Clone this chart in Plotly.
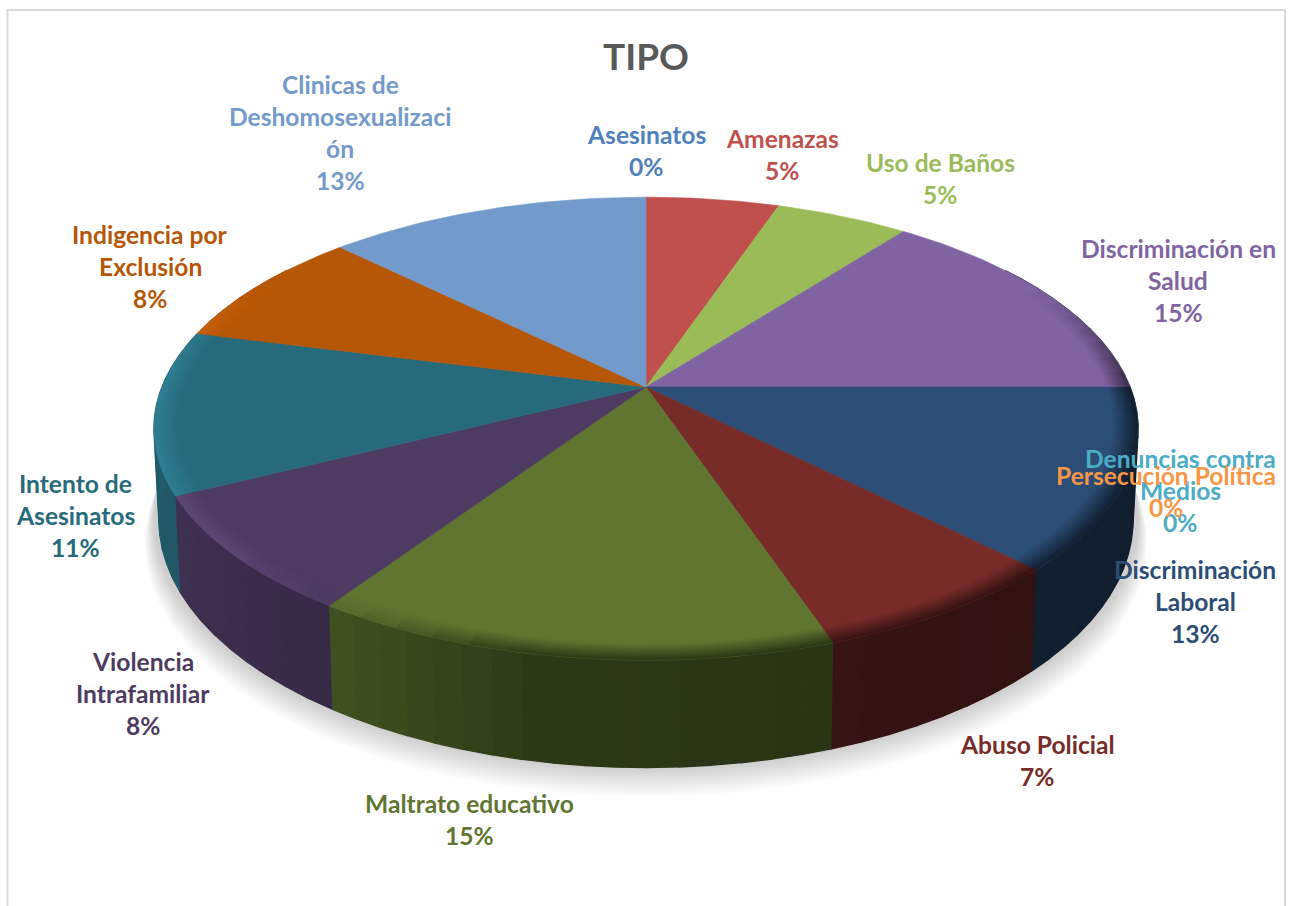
import numpy as np
import plotly.graph_objects as go

TITLE = "TIPO"
categories = ["Asesinatos", "Amenazas", "Uso de Baños", "Discriminación en Salud",
              "Denuncias contra Medios", "Persecución Política", "Discriminación Laboral",
              "Abuso Policial", "Maltrato educativo", "Violencia Intrafamiliar",
              "Intento de Asesinatos", "Indigencia por Exclusión",
              "Clinicas de Deshomosexualización"]
values = [0, 5.2, 5.2, 14.6, 0, 0, 12.6, 7.2, 14.6, 8.2, 11.4, 8.4, 12.6]
colors = ["#4F81BD", "#C0504D", "#9BBB59", "#8064A2", "#4BACC6", "#F79646", "#2C4D75",
          "#772C2A", "#5F7530", "#4D3B62", "#276A7C", "#B65708", "#729ACA"]
label_lines = [["Asesinatos"], ["Amenazas"], ["Uso de Baños"], ["Discriminación en", "Salud"],
               ["Denuncias contra", "Medios"], ["Persecución Política"], ["Discriminación", "Laboral"],
               ["Abuso Policial"], ["Maltrato educativo"], ["Violencia", "Intrafamiliar"],
               ["Intento de", "Asesinatos"], ["Indigencia por", "Exclusión"],
               ["Clinicas de", "Deshomosexualizaci", "ón"]]
# label anchors: centre x, first line y
label_anchor = [(646, 134), (782, 138), (940, 162), (1178, 248), (1180, 458), (1166, 475), (1195, 569),
                (1037, 744), (469, 803), (143, 661), (75, 483), (150, 234), (340, 84)]

FONT = "Lato"
LABEL_SIZE = 24.6
LINE_H = 32.3
CX, CY, A, B, K, DEPTH = 646, 387, 484, 224, 0.18, 88


def proj(theta_deg, rho=1.0, depth=0.0, sx=1.0):
    t = np.radians(np.asarray(theta_deg, float))
    u, v = rho * np.sin(t), rho * np.cos(t)
    d = 1 + K * v
    return CX + sx * A * u / d, CY - B * v / d + depth / d


def hex2rgb(h):
    return np.array([int(h[i:i + 2], 16) for i in (1, 3, 5)], float)


def css(c):
    c = np.clip(c, 0, 255)
    return f"rgb({c[0]:.0f},{c[1]:.0f},{c[2]:.0f})"


def wall_factor(th):
    return np.interp(th, [90, 134, 160, 190, 216, 245, 285], [.38, .40, .45, .48, .72, .82, .90])


fig = go.Figure()


def poly(x, y, color, lw=1.0):
    fig.add_trace(go.Scatter(x=np.asarray(x), y=np.asarray(y), mode="lines", fill="toself",
                             fillcolor=color, line=dict(color=color, width=lw),
                             hoverinfo="skip", showlegend=False))


# soft shadow under the pie
ring = np.linspace(0, 360, 181)
for i in range(16, 0, -1):
    sx, sy = proj(ring, 1.0, DEPTH + i * 1.5, 1 + i * 0.0012)
    poly(sx, sy, "rgba(0,0,0,0.013)", 0)

total = sum(values)
cum = np.cumsum([0] + values) / total * 360
slices = [(s, e, hex2rgb(c)) for s, e, c in zip(cum[:-1], cum[1:], colors) if e > s]

# walls
for s, e, col in slices:
    a0, a1 = max(s, 55), min(e, 305)
    if a1 <= a0:
        continue
    edges = np.linspace(a0, a1, max(2, int((a1 - a0) / 3) + 1))
    for t0, t1 in zip(edges[:-1], edges[1:]):
        seg = np.linspace(t0, t1, 4)
        x1, y1 = proj(seg, 1, 0)
        x2, y2 = proj(seg[::-1], 1, DEPTH, 0.99)
        poly(np.r_[x1, x2], np.r_[y1, y2], css(col * wall_factor((t0 + t1) / 2)), 1.4)

# top faces
for s, e, col in slices:
    seg = np.linspace(s, e, max(3, int(e - s) + 1))
    x, y = proj(seg)
    poly(np.r_[CX, x, CX], np.r_[CY, y, CY], css(col), 0.6)

# bevel on the rim of the top face
n_bands = 9
radii = np.linspace(.952, 1.0, n_bands + 1)
for s, e, col in slices:
    a0, a1 = max(s, 62), min(e, 300)
    if a1 <= a0:
        continue
    edges = np.linspace(a0, a1, max(2, int((a1 - a0) / 4) + 1))
    for t0, t1 in zip(edges[:-1], edges[1:]):
        mid = (t0 + t1) / 2
        seg = np.linspace(t0, t1, 4)
        dark = col * wall_factor(mid)
        light = col * 1.15 + 4
        blend = np.clip((mid - 195) / 35, 0, 1)
        fade = np.clip((mid - 62) / 30, 0, 1) * np.clip((300 - mid) / 25, 0, 1)
        target = dark * (1 - blend) + light * blend
        for j in range(n_bands):
            w = (j + 0.5) / n_bands
            c = col * (1 - w * fade) + target * w * fade
            x1, y1 = proj(seg, radii[j])
            x2, y2 = proj(seg[::-1], radii[j + 1])
            poly(np.r_[x1, x2], np.r_[y1, y2], css(c), 0.5)

# labels
ann = [dict(x=646, y=55, text=f"<b>{TITLE}</b>", showarrow=False, xanchor="center", yanchor="middle",
            font=dict(family=FONT, size=37, color="#595959"))]
for name, lines, (lx, ly), val, col in zip(categories, label_lines, label_anchor, values, colors):
    pct = f"{round(val / total * 100)}%"
    for i, line in enumerate(lines + [pct]):
        ann.append(dict(x=lx, y=ly + i * LINE_H, text=f"<b>{line}</b>", showarrow=False,
                        xanchor="center", yanchor="middle",
                        font=dict(family=FONT, size=LABEL_SIZE, color=col)))

frame = dict(type="rect", x0=7.5, y0=10, x1=1285, y1=930, line=dict(color="#D9D9D9", width=2),
             fillcolor="rgba(0,0,0,0)", layer="below")

fig.update_layout(width=1293, height=906, margin=dict(l=0, r=0, t=0, b=0), autosize=False,
                  paper_bgcolor="white", plot_bgcolor="white", showlegend=False,
                  xaxis=dict(range=[0, 1293], visible=False, fixedrange=True),
                  yaxis=dict(range=[906, 0], visible=False, fixedrange=True),
                  annotations=ann, shapes=[frame])

fig.write_html("out.html", config=dict(displayModeBar=False),
               post_script="document.body.style.margin='0';document.body.style.overflow='hidden';")
